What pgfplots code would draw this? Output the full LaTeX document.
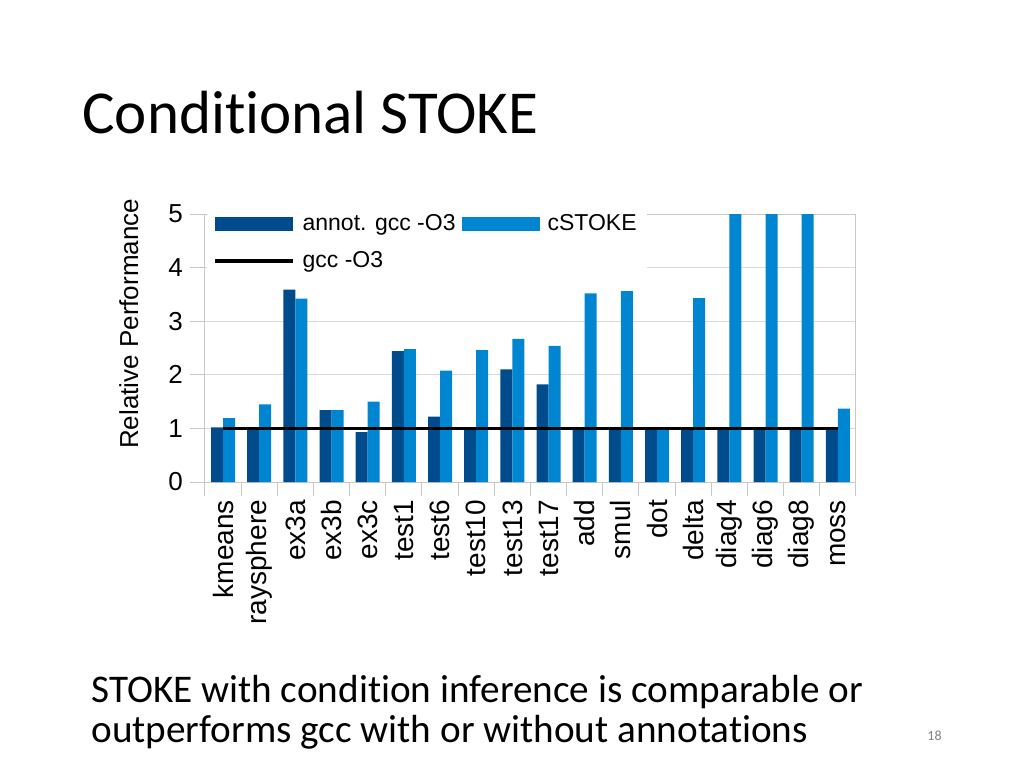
\documentclass[border=0pt]{standalone}
\usepackage{fontspec}
\setmainfont{Liberation Sans}
\newfontfamily\carlito[Ligatures=NoCommon]{Carlito}
\usepackage{pgfplots}
\pgfplotsset{compat=1.18}
\definecolor{darkb}{RGB}{0,75,140}
\definecolor{lightb}{RGB}{0,133,208}
\definecolor{gridc}{RGB}{217,217,217}
\definecolor{axc}{RGB}{200,200,200}
\begin{document}
\begin{tikzpicture}
\path[use as bounding box] (0,0) rectangle (512pt,384pt);
\node[anchor=base west, inner sep=0pt, font=\carlito\fontsize{30.5}{34}\selectfont] at (41pt,317.5pt) {Conditional STOKE};
\node[anchor=base west, inner sep=0pt, font=\carlito\fontsize{19.6}{24}\selectfont] at (45.5pt,33pt) {STOKE with condition inference is comparable or};
\node[anchor=base west, inner sep=0pt, font=\carlito\fontsize{19.6}{24}\selectfont] at (45.5pt,13pt) {outperforms gcc with or without annotations};
\node[anchor=base west, inner sep=0pt, text=gray, font=\carlito\fontsize{7}{8}\selectfont] at (463.5pt,14pt) {18};
\begin{axis}[
  at={(102.5pt,143pt)}, anchor=south west,
  scale only axis, width=325.5pt, height=134pt,
  ybar=0pt, bar width=6pt,
  xmin=-0.5, xmax=17.5, ymin=0, ymax=5,
  ytick={0,1,2,3,4,5},
  xtick={0,...,17},
  xticklabels={kmeans,raysphere,ex3a,ex3b,ex3c,test1,test6,test10,test13,test17,add,smul,dot,delta,diag4,diag6,diag8,moss},
  minor xtick={-0.5,0.5,...,17.5},
  xtick pos=bottom, ytick pos=left,
  tick align=outside,
  major tick length=7.5pt,
  minor tick length=7pt,
  major x tick style={draw=none},
  minor x tick style={axc, line width=0.5pt},
  major y tick style={axc, line width=0.5pt},
  ymajorgrids, grid style={gridc, line width=0.5pt},
  axis line style={axc, line width=0.5pt},
  /pgf/number format/assume math mode=true,
  yticklabel style={font=\fontsize{13}{15}\selectfont},
  xticklabel style={rotate=90, anchor=east, font=\fontsize{14}{16}\selectfont},
  xticklabel shift=-2pt,
  ylabel={Relative Performance},
  ylabel style={at={(axis description cs:-0.117,0.59)}, anchor=center, font=\fontsize{13}{15}\selectfont},
  legend style={at={(0,1)}, anchor=north west, xshift=1pt, yshift=4pt, draw=none, fill=white,
    font=\fontsize{11.5}{13}\selectfont, row sep=5pt,
    /tikz/every odd column/.append style={column sep=2pt},
    /tikz/every even column/.append style={column sep=1pt}},
  legend columns=2, legend cell align=left,
  clip=true,
]
\addplot[fill=darkb, draw=none, legend image code/.code={\fill[darkb] (0pt,-3.5pt) rectangle (39pt,3.5pt);}] coordinates {
(0,1.02) (1,1.0) (2,3.59) (3,1.34) (4,0.93) (5,2.44) (6,1.22) (7,1.0) (8,2.10) (9,1.82)
(10,1.0) (11,1.0) (12,1.0) (13,1.0) (14,1.0) (15,1.0) (16,1.0) (17,1.0)};
\addplot[fill=lightb, draw=none, legend image code/.code={\fill[lightb] (0pt,-3.5pt) rectangle (39pt,3.5pt);}] coordinates {
(0,1.19) (1,1.45) (2,3.42) (3,1.34) (4,1.50) (5,2.48) (6,2.08) (7,2.46) (8,2.67) (9,2.54)
(10,3.52) (11,3.56) (12,1.0) (13,3.43) (14,5.5) (15,5.5) (16,5.5) (17,1.37)};
\addplot[sharp plot, black, line width=1.6pt, legend image code/.code={\draw[black, line width=1.6pt] (0pt,0pt) -- (39pt,0pt);}] coordinates {(0,1) (17,1)};
\legend{annot. gcc -O3, cSTOKE, gcc -O3}
\end{axis}
\end{tikzpicture}
\end{document}
